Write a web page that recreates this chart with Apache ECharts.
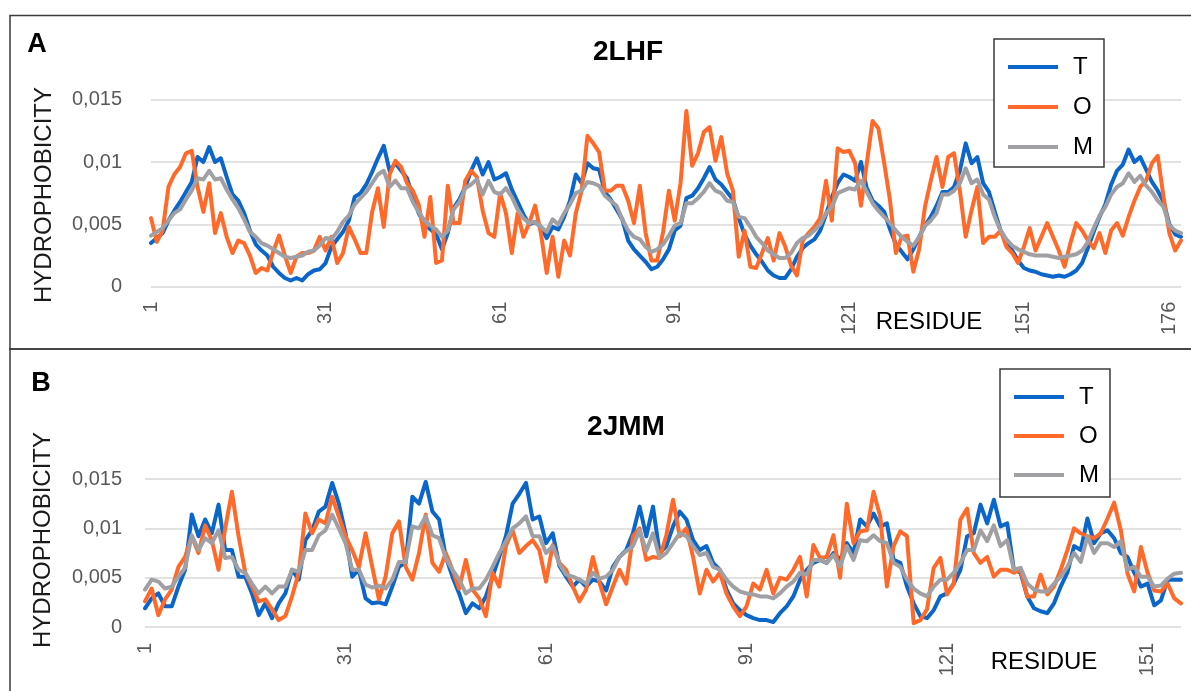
<!DOCTYPE html>
<html><head><meta charset="utf-8">
<script src="https://cdn.jsdelivr.net/npm/echarts/dist/echarts.min.js"></script>
<style>html,body{margin:0;padding:0;background:#fff}#c{width:1191px;height:691px}</style>
</head><body><div id="c"></div><script>
// ---- Panel A: 2LHF ----
const tA = [0.0035,0.0039,0.0043,0.0053,0.0061,0.0068,0.0076,0.0084,0.0104,0.0100,
0.0112,0.0100,0.0103,0.0088,0.0074,0.0069,0.0059,0.0045,0.0034,0.0029,
0.0025,0.0016,0.0011,0.0007,0.0005,0.0007,0.0005,0.0010,0.0013,0.0014,
0.0019,0.0032,0.0038,0.0044,0.0053,0.0072,0.0075,0.0082,0.0092,0.0103,
0.0113,0.0093,0.0099,0.0093,0.0087,0.0072,0.0059,0.0051,0.0046,0.0042,
0.0030,0.0043,0.0063,0.0070,0.0080,0.0093,0.0103,0.0090,0.0100,0.0086,
0.0088,0.0091,0.0078,0.0068,0.0058,0.0050,0.0052,0.0048,0.0039,0.0048,
0.0046,0.0056,0.0069,0.0090,0.0083,0.0099,0.0095,0.0094,0.0076,0.0070,
0.0062,0.0054,0.0037,0.0030,0.0025,0.0020,0.0014,0.0016,0.0022,0.0030,
0.0045,0.0049,0.0071,0.0073,0.0079,0.0087,0.0096,0.0086,0.0082,0.0076,
0.0070,0.0055,0.0042,0.0033,0.0026,0.0020,0.0013,0.0009,0.0007,0.0007,
0.0014,0.0024,0.0031,0.0035,0.0038,0.0045,0.0058,0.0072,0.0083,0.0090,
0.0088,0.0085,0.0100,0.0079,0.0069,0.0065,0.0060,0.0046,0.0034,0.0028,
0.0022,0.0030,0.0040,0.0049,0.0056,0.0065,0.0076,0.0076,0.0080,0.0093,
0.0115,0.0099,0.0104,0.0083,0.0076,0.0060,0.0045,0.0037,0.0029,0.0021,
0.0015,0.0013,0.0012,0.0010,0.0009,0.0008,0.0009,0.0008,0.0010,0.0013,
0.0019,0.0031,0.0044,0.0056,0.0066,0.0082,0.0093,0.0098,0.0110,0.0100,
0.0104,0.0094,0.0084,0.0077,0.0068,0.0050,0.0042,0.0040];
const oA = [0.0055,0.0036,0.0045,0.0080,0.0090,0.0096,0.0107,0.0109,0.0080,0.0060,
0.0083,0.0043,0.0059,0.0040,0.0027,0.0037,0.0035,0.0025,0.0011,0.0015,
0.0013,0.0028,0.0041,0.0025,0.0011,0.0024,0.0027,0.0027,0.0029,0.0040,
0.0029,0.0040,0.0019,0.0027,0.0048,0.0038,0.0027,0.0027,0.0060,0.0079,
0.0048,0.0090,0.0101,0.0096,0.0083,0.0077,0.0066,0.0040,0.0072,0.0019,
0.0021,0.0081,0.0051,0.0051,0.0085,0.0093,0.0088,0.0061,0.0043,0.0040,
0.0075,0.0059,0.0027,0.0059,0.0040,0.0051,0.0065,0.0043,0.0011,0.0040,
0.0008,0.0037,0.0025,0.0059,0.0077,0.0121,0.0115,0.0108,0.0077,0.0077,
0.0081,0.0081,0.0069,0.0051,0.0081,0.0043,0.0021,0.0021,0.0044,0.0077,
0.0053,0.0083,0.0141,0.0097,0.0107,0.0124,0.0128,0.0101,0.0120,0.0091,
0.0077,0.0024,0.0045,0.0016,0.0015,0.0027,0.0039,0.0021,0.0043,0.0032,
0.0017,0.0009,0.0037,0.0043,0.0048,0.0055,0.0085,0.0053,0.0111,0.0108,
0.0109,0.0099,0.0065,0.0099,0.0133,0.0127,0.0099,0.0069,0.0027,0.0040,
0.0041,0.0012,0.0030,0.0064,0.0085,0.0104,0.0080,0.0104,0.0107,0.0077,
0.0040,0.0061,0.0080,0.0035,0.0040,0.0040,0.0045,0.0032,0.0027,0.0019,
0.0032,0.0047,0.0029,0.0040,0.0051,0.0040,0.0029,0.0016,0.0035,0.0051,
0.0045,0.0037,0.0031,0.0043,0.0027,0.0045,0.0051,0.0041,0.0056,0.0069,
0.0080,0.0085,0.0099,0.0105,0.0072,0.0043,0.0029,0.0037];
const mA = [0.0041,0.0044,0.0047,0.0053,0.0059,0.0062,0.0070,0.0077,0.0087,0.0086,
0.0093,0.0086,0.0087,0.0078,0.0070,0.0063,0.0054,0.0044,0.0040,0.0035,
0.0033,0.0030,0.0027,0.0024,0.0023,0.0024,0.0025,0.0028,0.0029,0.0033,
0.0039,0.0038,0.0044,0.0052,0.0057,0.0066,0.0071,0.0076,0.0083,0.0090,
0.0093,0.0080,0.0085,0.0079,0.0079,0.0068,0.0060,0.0053,0.0049,0.0046,
0.0040,0.0045,0.0062,0.0068,0.0079,0.0082,0.0086,0.0074,0.0085,0.0076,
0.0074,0.0079,0.0072,0.0062,0.0055,0.0051,0.0052,0.0048,0.0044,0.0054,
0.0050,0.0059,0.0066,0.0075,0.0077,0.0084,0.0083,0.0081,0.0073,0.0069,
0.0065,0.0054,0.0045,0.0040,0.0038,0.0032,0.0028,0.0030,0.0034,0.0041,
0.0049,0.0051,0.0067,0.0067,0.0071,0.0076,0.0083,0.0077,0.0075,0.0069,
0.0068,0.0056,0.0055,0.0048,0.0040,0.0035,0.0029,0.0026,0.0023,0.0023,
0.0027,0.0035,0.0039,0.0041,0.0045,0.0050,0.0059,0.0064,0.0075,0.0077,
0.0079,0.0078,0.0085,0.0076,0.0067,0.0061,0.0056,0.0051,0.0045,0.0040,
0.0036,0.0033,0.0040,0.0049,0.0053,0.0059,0.0074,0.0074,0.0077,0.0083,
0.0095,0.0083,0.0086,0.0074,0.0070,0.0056,0.0045,0.0038,0.0033,0.0030,
0.0028,0.0026,0.0025,0.0025,0.0025,0.0024,0.0023,0.0024,0.0025,0.0026,
0.0029,0.0036,0.0047,0.0057,0.0064,0.0074,0.0080,0.0083,0.0091,0.0084,
0.0089,0.0081,0.0076,0.0069,0.0064,0.0049,0.0045,0.0043];
const ticksA = [1, 31, 61, 91, 121, 151, 176];

// ---- Panel B: 2JMM ----
const tB = [0.0019,0.0029,0.0034,0.0021,0.0021,0.0041,0.0058,0.0114,0.0092,0.0109,
0.0095,0.0124,0.0078,0.0078,0.0051,0.0051,0.0034,0.0012,0.0024,0.0009,
0.0024,0.0034,0.0058,0.0048,0.0088,0.0098,0.0117,0.0122,0.0146,0.0125,
0.0095,0.0051,0.0058,0.0029,0.0024,0.0025,0.0023,0.0041,0.0061,0.0065,
0.0132,0.0125,0.0147,0.0117,0.0109,0.0071,0.0051,0.0034,0.0014,0.0024,
0.0019,0.0031,0.0051,0.0071,0.0092,0.0125,0.0135,0.0146,0.0109,0.0112,
0.0085,0.0095,0.0062,0.0051,0.0041,0.0048,0.0041,0.0048,0.0046,0.0037,
0.0061,0.0071,0.0078,0.0095,0.0122,0.0092,0.0122,0.0075,0.0082,0.0102,
0.0117,0.0109,0.0088,0.0078,0.0082,0.0065,0.0058,0.0038,0.0024,0.0017,
0.0012,0.0009,0.0007,0.0007,0.0005,0.0014,0.0021,0.0031,0.0048,0.0058,
0.0065,0.0068,0.0065,0.0075,0.0068,0.0085,0.0075,0.0109,0.0102,0.0115,
0.0102,0.0105,0.0068,0.0065,0.0041,0.0024,0.0011,0.0009,0.0017,0.0031,
0.0034,0.0044,0.0058,0.0092,0.0095,0.0124,0.0105,0.0129,0.0102,0.0105,
0.0058,0.0055,0.0031,0.0019,0.0016,0.0014,0.0024,0.0041,0.0055,0.0082,
0.0078,0.0110,0.0085,0.0095,0.0098,0.0090,0.0075,0.0071,0.0055,0.0041,
0.0044,0.0022,0.0027,0.0048,0.0048,0.0048];
const oB = [0.0026,0.0039,0.0012,0.0028,0.0038,0.0061,0.0071,0.0092,0.0075,0.0103,
0.0088,0.0058,0.0100,0.0137,0.0092,0.0055,0.0041,0.0026,0.0028,0.0018,
0.0007,0.0011,0.0031,0.0055,0.0115,0.0095,0.0109,0.0105,0.0132,0.0112,
0.0092,0.0078,0.0061,0.0095,0.0061,0.0028,0.0051,0.0095,0.0107,0.0061,
0.0048,0.0075,0.0114,0.0065,0.0056,0.0075,0.0058,0.0039,0.0068,0.0038,
0.0029,0.0011,0.0055,0.0041,0.0082,0.0098,0.0075,0.0082,0.0088,0.0078,
0.0046,0.0083,0.0065,0.0058,0.0041,0.0026,0.0038,0.0071,0.0045,0.0023,
0.0041,0.0058,0.0044,0.0092,0.0100,0.0068,0.0071,0.0070,0.0093,0.0129,
0.0092,0.0100,0.0071,0.0034,0.0058,0.0046,0.0055,0.0034,0.0021,0.0011,
0.0021,0.0044,0.0038,0.0058,0.0034,0.0050,0.0048,0.0058,0.0071,0.0031,
0.0083,0.0070,0.0071,0.0093,0.0050,0.0125,0.0085,0.0097,0.0098,0.0137,
0.0112,0.0041,0.0082,0.0097,0.0092,0.0004,0.0007,0.0018,0.0060,0.0070,
0.0033,0.0044,0.0109,0.0120,0.0075,0.0065,0.0071,0.0051,0.0058,0.0058,
0.0055,0.0058,0.0031,0.0031,0.0053,0.0033,0.0041,0.0058,0.0078,0.0100,
0.0095,0.0092,0.0090,0.0095,0.0110,0.0126,0.0098,0.0054,0.0036,0.0081,
0.0055,0.0037,0.0036,0.0044,0.0029,0.0024];
const mB = [0.0038,0.0048,0.0046,0.0039,0.0041,0.0051,0.0060,0.0093,0.0078,0.0090,
0.0085,0.0098,0.0070,0.0071,0.0058,0.0055,0.0044,0.0034,0.0041,0.0034,
0.0041,0.0041,0.0058,0.0056,0.0078,0.0078,0.0093,0.0098,0.0114,0.0100,
0.0085,0.0058,0.0058,0.0043,0.0040,0.0042,0.0039,0.0048,0.0066,0.0066,
0.0102,0.0100,0.0112,0.0093,0.0090,0.0070,0.0058,0.0048,0.0034,0.0039,
0.0039,0.0048,0.0061,0.0075,0.0087,0.0100,0.0105,0.0112,0.0092,0.0092,
0.0075,0.0082,0.0064,0.0053,0.0051,0.0048,0.0044,0.0055,0.0049,0.0051,
0.0058,0.0071,0.0077,0.0082,0.0098,0.0077,0.0095,0.0070,0.0075,0.0085,
0.0095,0.0092,0.0082,0.0073,0.0075,0.0061,0.0058,0.0048,0.0041,0.0036,
0.0034,0.0033,0.0031,0.0031,0.0029,0.0034,0.0041,0.0046,0.0055,0.0053,
0.0068,0.0068,0.0065,0.0073,0.0061,0.0082,0.0068,0.0088,0.0087,0.0093,
0.0087,0.0085,0.0065,0.0061,0.0048,0.0039,0.0034,0.0031,0.0041,0.0048,
0.0048,0.0055,0.0065,0.0078,0.0078,0.0098,0.0087,0.0103,0.0082,0.0088,
0.0058,0.0060,0.0044,0.0038,0.0036,0.0036,0.0044,0.0051,0.0061,0.0075,
0.0066,0.0092,0.0075,0.0085,0.0085,0.0081,0.0087,0.0058,0.0061,0.0051,
0.0051,0.0041,0.0042,0.0049,0.0054,0.0055];
const ticksB = [1, 31, 61, 91, 121, 151];

const seriesNames = ['T', 'O', 'M'];
const yTicks = [0, 0.005, 0.01, 0.015];

const FONT = "'Liberation Sans', Arial, sans-serif";
const COLORS = {T: '#0a66c8', O: '#ff6a2a', M: '#a0a0a4'};
const catsA = tA.map((_, i) => String(i + 1));
const catsB = tB.map((_, i) => String(i + 1));

function yLabel(v) {
  return v === 0 ? '0' : String(+v.toFixed(3)).replace('.', ',');
}
function xAxis(grid, cats, ticks, margin) {
  return {
    type: 'category', gridIndex: grid, data: cats, boundaryGap: false,
    axisLine: {show: false}, axisTick: {show: false}, splitLine: {show: false},
    axisLabel: {interval: (i, v) => ticks.includes(+v), rotate: 90, margin: margin,
      color: '#595959', fontSize: 20, fontFamily: FONT}
  };
}
function yAxis(grid, margin) {
  return {
    type: 'value', gridIndex: grid, min: yTicks[0], max: yTicks[yTicks.length - 1], interval: yTicks[1],
    axisLine: {show: false}, axisTick: {show: false},
    axisLabel: {formatter: yLabel, color: '#595959', fontSize: 20, fontFamily: FONT, margin: margin},
    splitLine: {lineStyle: {color: '#d9d9d9', width: 1.5}}
  };
}
function line(name, data, idx) {
  return {
    name: name, type: 'line', data: data, xAxisIndex: idx, yAxisIndex: idx,
    showSymbol: false, symbol: 'none', color: COLORS[name],
    lineStyle: {width: 4, color: COLORS[name], join: 'round', cap: 'round'}
  };
}
function legend(left, top, pad, gap) {
  return {
    data: seriesNames, left: left, top: top, orient: 'vertical', icon: 'rect',
    itemWidth: 50, itemHeight: 4, itemGap: gap, padding: pad,
    borderColor: '#3a3a3a', borderWidth: 1.5, backgroundColor: '#fff', selectedMode: false,
    textStyle: {fontSize: 24, lineHeight: 24, color: '#000', fontFamily: FONT, padding: [0, 0, 0, 10]}
  };
}
function txt(text, x, y, font, color, rot) {
  return {type: 'text', x: x, y: y, rotation: rot || 0, silent: true,
    style: {text: text, font: font, fill: color, textAlign: 'center', textVerticalAlign: 'middle'}};
}

const chart = echarts.init(document.getElementById('c'));
chart.setOption({
  animation: false,
  backgroundColor: '#fff',
  grid: [
    {left: 151, top: 99.7, width: 1030, height: 187},
    {left: 145, top: 479, width: 1036, height: 148}
  ],
  xAxis: [xAxis(0, catsA, ticksA, 15), xAxis(1, catsB, ticksB, 16)],
  yAxis: [yAxis(0, 29), yAxis(1, 23)],
  legend: [legend(994, 39, [16, 11, 8, 14], 16), legend(1000, 369, [16, 11, 10, 14], 15)],
  series: [
    line('T', tA, 0), line('O', oA, 0), line('M', mA, 0),
    line('T', tB, 1), line('O', oB, 1), line('M', mB, 1)
  ],
  graphic: [
    {type: 'rect', silent: true, shape: {x: 10, y: 15.5, width: 1200, height: 333.5},
      style: {fill: 'none', stroke: '#3a3a3a', lineWidth: 1.5}},
    {type: 'rect', silent: true, shape: {x: 10, y: 349, width: 1200, height: 400},
      style: {fill: 'none', stroke: '#3a3a3a', lineWidth: 1.5}},
    txt('A', 37, 45, "bold 27px " + FONT, '#000'),
    txt('B', 41, 384, "bold 27px " + FONT, '#000'),
    txt('2LHF', 628, 52, "bold 28px " + FONT, '#000'),
    txt('2JMM', 626, 427, "bold 28px " + FONT, '#000'),
    txt('HYDROPHOBICITY', 44, 195, "24px " + FONT, '#1a1a1a', Math.PI / 2),
    txt('HYDROPHOBICITY', 43, 540, "24px " + FONT, '#1a1a1a', Math.PI / 2),
    txt('RESIDUE', 929, 322, "24px " + FONT, '#000'),
    txt('RESIDUE', 1044, 662, "24px " + FONT, '#000')
  ]
});
</script></body></html>
